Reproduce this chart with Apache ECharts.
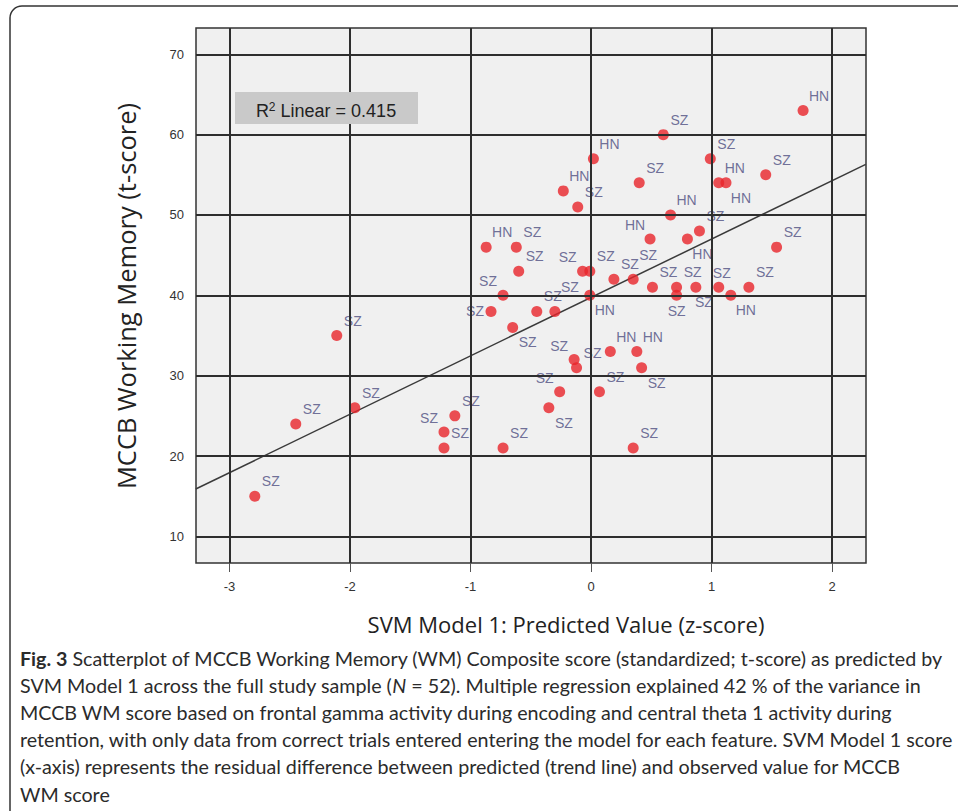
<!DOCTYPE html>
<html>
<head>
<meta charset="utf-8">
<script src="https://cdn.jsdelivr.net/npm/echarts@6/dist/echarts.min.js"></script>
<style>
  html, body { margin: 0; padding: 0; background: #fff; }
  #main { width: 958px; height: 811px; }
</style>
</head>
<body>
<div id="main"></div>
<script>
// scatter data: SVM Model 1 predicted value (z) vs MCCB WM (t-score)
var xValues = [1.76, 0.60, 0.02, 0.99, 0.40, 1.06, 1.12, 1.45, -0.23, -0.11,
               0.66, 0.49, 0.80, 0.90, 1.54, -0.87, -0.62, -0.60, -0.07, -0.01,
               0.19, 0.35, -0.73, -0.01, -0.83, -0.45, -0.30, -0.65, 0.51, 0.71,
               0.71, 0.87, 1.06, 1.31, 1.16, -0.14, -0.12, 0.16, 0.38, 0.42,
               0.07, -0.26, -0.35, 0.35, -0.73, -1.13, -1.22, -1.22, -2.79, -2.45,
               -2.11, -1.96]
var yValues = [63, 60, 57, 57, 54, 54, 54, 55, 53, 51,
               50, 47, 47, 48, 46, 46, 46, 43, 43, 43,
               42, 42, 40, 40, 38, 38, 38, 36, 41, 41,
               40, 41, 41, 41, 40, 32, 31, 33, 33, 31,
               28, 28, 26, 21, 21, 25, 23, 21, 15, 24,
               35, 26]
var groups = ['HN', 'SZ', 'HN', 'SZ', 'SZ', 'HN', 'HN', 'SZ', 'HN', 'SZ',
              'HN', 'HN', 'HN', 'SZ', 'SZ', 'HN', 'SZ', 'SZ', 'SZ', 'SZ',
              'SZ', 'SZ', 'SZ', 'HN', 'SZ', 'SZ', 'SZ', 'SZ', 'SZ', 'SZ',
              'SZ', 'SZ', 'SZ', 'SZ', 'HN', 'SZ', 'SZ', 'HN', 'HN', 'SZ',
              'SZ', 'SZ', 'SZ', 'SZ', 'SZ', 'SZ', 'SZ', 'SZ', 'SZ', 'SZ',
              'SZ', 'SZ']
// trend line ends
var trendX = [-3.28, 2.28]
var trendY = [15.9, 56.3]
var xTicks = [-3, -2, -1, 0, 1, 2]
var yTicks = [10, 20, 30, 40, 50, 60, 70]
var rSquared = '0.415'
var xTitle = 'SVM Model 1: Predicted Value (z-score)'
var yTitle = 'MCCB Working Memory (t-score)'
var captionLines = [
    '{b|Fig. 3} Scatterplot of MCCB Working Memory (WM) Composite score (standardized; t-score) as predicted by',
    'SVM Model 1 across the full study sample ({i|N} = 52). Multiple regression explained 42 % of the variance in',
    'MCCB WM score based on frontal gamma activity during encoding and central theta 1 activity during',
    'retention, with only data from correct trials entered entering the model for each feature. SVM Model 1 score',
    '(x-axis) represents the residual difference between predicted (trend line) and observed value for MCCB',
    'WM score'
]

// label placement round each dot (style only)
var offsets = {
    tr: [16, -15], tl: [-15, -14], br: [15, 15], b: [0, 16], t: [3, -14],
    l: [-16, 0], tr2: [15, -24], bs: [8, 15]
}
var labelSide = ['tr', 'tr', 'tr', 'tr', 'tr', 'tr', 'br', 'tr', 'tr', 'tr',
                 'tr', 'tl', 'br', 'tr', 'tr', 'tr', 'tr', 'tr', 'tl', 'tr',
                 'tr', 'tr2', 'tl', 'br', 'l', 'tr', 'tr2', 'br', 'tr', 'tr',
                 'b', 'bs', 't', 'tr', 'br', 'tl', 'tr', 'tr', 'tr', 'br',
                 'tr', 'tl', 'br', 'tr', 'tr', 'tr', 'tl', 'tr', 'tr', 'tr',
                 'tr', 'tr']

var chart = echarts.init(document.getElementById('main'), null, {renderer: 'svg'})

var points = xValues.map(function (x, i) {
    return {
        value: [x, yValues[i]],
        label: {offset: offsets[labelSide[i]]}
    }
})

var gridLines = xTicks.map(function (v) { return {xAxis: v} })
    .concat(yTicks.map(function (v) { return {yAxis: v} }))

var captionText = captionLines.map(function (line, i) {
    return {
        type: 'text',
        left: 20,
        top: 648 + i * 27.2,
        style: {
            text: line,
            fill: '#2b2b2b',
            font: '19.7px Lato',
            rich: {
                b: {fontWeight: 'bold', fontFamily: 'Lato', fontSize: 19.7, fill: '#2b2b2b'},
                i: {fontStyle: 'italic', fontFamily: 'Lato', fontSize: 19.7, fill: '#2b2b2b'}
            }
        }
    }
})

var axisFont = {color: '#333', fontSize: 13, fontFamily: 'Liberation Sans'}

chart.setOption({
    animation: false,
    backgroundColor: '#fff',
    grid: {
        left: 196, top: 28, width: 670, height: 535,
        show: true,
        backgroundColor: '#f0f0f0',
        borderColor: '#333',
        borderWidth: 1.5
    },
    xAxis: {
        type: 'value',
        min: -3.278, max: 2.282,
        axisLine: {show: false},
        axisTick: {show: true, customValues: xTicks, length: 9, lineStyle: {color: '#555'}},
        axisLabel: Object.assign({customValues: xTicks, margin: 17}, axisFont),
        splitLine: {show: false}
    },
    yAxis: {
        type: 'value',
        min: 6.69, max: 73.27,
        axisLine: {show: false},
        axisTick: {show: true, customValues: yTicks, length: 9, lineStyle: {color: '#555'}},
        axisLabel: Object.assign({customValues: yTicks, margin: 12}, axisFont),
        splitLine: {show: false}
    },
    series: [
        {
            // grid lines on the tick values
            type: 'line',
            data: [],
            z: 1,
            silent: true,
            markLine: {
                silent: true,
                symbol: ['none', 'none'],
                label: {show: false},
                lineStyle: {color: '#2e2e2e', width: 2, type: 'solid'},
                data: gridLines
            }
        },
        {
            type: 'line',
            z: 2,
            silent: true,
            symbol: 'none',
            data: [[trendX[0], trendY[0]], [trendX[1], trendY[1]]],
            lineStyle: {color: '#3a3a3a', width: 1.5}
        },
        {
            type: 'scatter',
            z: 3,
            symbolSize: 11,
            itemStyle: {color: '#e8242b'},
            label: {
                show: true,
                position: 'inside',
                formatter: function (p) { return groups[p.dataIndex] },
                color: '#4d4d80',
                fontSize: 14,
                fontFamily: 'Liberation Sans'
            },
            data: points
        }
    ],
    graphic: [
        {
            // outer figure frame
            type: 'rect',
            shape: {x: 10, y: 6, width: 1000, height: 900, r: [12, 0, 0, 0]},
            style: {fill: 'none', stroke: '#333', lineWidth: 1.5},
            silent: true
        },
        {
            type: 'rect',
            shape: {x: 235, y: 92, width: 183, height: 32},
            style: {fill: '#c9c9c9'},
            z: 10
        },
        {
            type: 'text',
            x: 326, y: 111,
            z: 11,
            style: {
                text: 'R{s|2} Linear = ' + rSquared,
                align: 'center',
                verticalAlign: 'middle',
                fill: '#222',
                font: '18px Liberation Sans',
                rich: {
                    s: {fontSize: 12, fontFamily: 'Liberation Sans', fill: '#222', verticalAlign: 'top', padding: [0, 0, 9, 0]}
                }
            }
        },
        {
            type: 'text',
            x: 126, y: 296,
            rotation: Math.PI / 2,
            style: {
                text: yTitle,
                align: 'center',
                verticalAlign: 'middle',
                fill: '#222',
                font: '25.5px Open Sans'
            }
        },
        {
            type: 'text',
            x: 566, y: 624,
            style: {
                text: xTitle,
                align: 'center',
                verticalAlign: 'middle',
                fill: '#222',
                font: '22px Open Sans'
            }
        }
    ].concat(captionText)
})
window.onresize = chart.resize
</script>
</body>
</html>
